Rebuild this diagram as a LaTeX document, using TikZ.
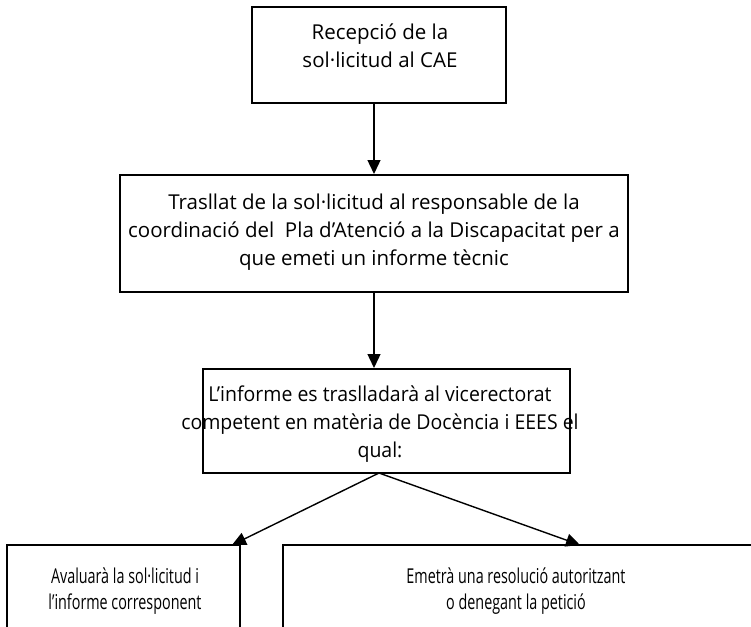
\documentclass[tikz,border=0pt]{standalone}
\usepackage{fontspec}
\setmainfont{Open Sans}
\usetikzlibrary{arrows.meta}
\begin{document}
\begin{tikzpicture}[x=1pt,y=-1pt,
  box/.style={draw=black,line width=2pt,inner sep=0pt,fill=none},
  txt/.style={align=center,inner sep=0pt,font=\fontsize{20.5}{28}\selectfont},
  ctxt/.style={align=center,inner sep=0pt,font=\fontsize{20.5}{26}\selectfont,xscale=0.7,transform shape},
  arr/.style={line width=1.4pt,-{Triangle[length=14pt,width=13pt]}}]
\useasboundingbox (0,0) rectangle (751,626);
\clip (0,0) rectangle (751,626);
\node[box,minimum width=254pt,minimum height=96pt] (a) at (379,55) {};
\node[txt] (ta) at (380,46) {Recepció de la\\sol·licitud al CAE};
\node[box,minimum width=508pt,minimum height=117pt] (b) at (374,233.5) {};
\node[txt] (tb) at (374,232) {Trasllat de la sol·licitud al responsable de la\\coordinació del \ Pla d’Atenció a la Discapacitat per a\\que emeti un informe tècnic};
\node[box,minimum width=367pt,minimum height=104pt] (c) at (386.5,421) {};
\node[txt,xscale=0.95,transform shape] (tc) at (380,424) {L’informe es traslladarà al vicerectorat\\competent en matèria de Docència i EEES el\\qual:};
\node[box,minimum width=233pt,minimum height=100pt] (d) at (123.5,595) {};
\node[ctxt] (td) at (125,591) {Avaluarà la sol·licitud i\\l’informe corresponent};
\node[box,minimum width=472pt,minimum height=100pt] (e) at (519,595) {};
\node[ctxt] (te) at (516,591) {Emetrà una resolució autoritzant\\o denegant la petició};
\coordinate (s) at (379,473);
\coordinate (lt) at (232,545);
\coordinate (rt) at (580,545);
\draw[arr] (a.south -| b.north) -- (b.north);
\draw[arr] (b.south) -- (c.north -| b.south);
\draw[arr] (s) -- (lt);
\draw[arr] (s) -- (rt);
\end{tikzpicture}
\end{document}
